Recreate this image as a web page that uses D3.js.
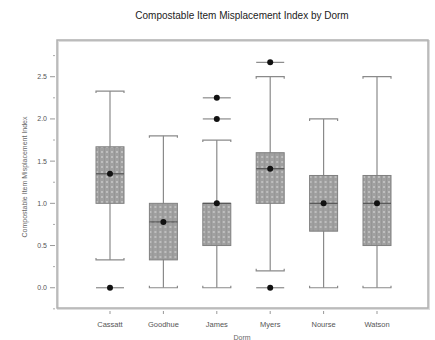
<!DOCTYPE html>
<html>
<head>
<meta charset="utf-8">
<script src="https://cdn.jsdelivr.net/npm/d3@7"></script>
<style>
  body { margin: 0; background: #fff; }
  text { font-family: "Liberation Sans", Arial, sans-serif; }
</style>
</head>
<body>
<svg id="chart" width="435" height="340"></svg>
<script>
var dorms = ['Cassatt', 'Goodhue', 'James', 'Myers', 'Nourse', 'Watson'];
var whiskerLow = [0.33, 0, 0, 0.2, 0, 0];
var q1 = [1.0, 0.33, 0.5, 1.0, 0.67, 0.5];
var medians = [1.35, 0.78, 1.0, 1.41, 1.0, 1.0];
var q3 = [1.67, 1.0, 1.0, 1.6, 1.33, 1.33];
var whiskerHigh = [2.33, 1.8, 1.75, 2.5, 2.0, 2.5];
var means = [1.35, 0.78, 1.0, 1.41, 1.0, 1.0];
var outliers = [[0], [], [2.0, 2.25], [0, 2.67], [], []];
var yTicks = [0, 0.5, 1.0, 1.5, 2.0, 2.5];
var yMinorTicks = [-0.25, 0.25, 0.75, 1.25, 1.75, 2.25, 2.75];

var svg = d3.select('#chart');
var frame = {left: 57, top: 40, right: 428, bottom: 308};

var x = d3.scaleBand().domain(dorms).range([83.3, 403.7]);
var y = d3.scaleLinear().domain([-0.24, 2.935]).range([frame.bottom, frame.top]);
var boxW = 28;

// stipple pattern for the boxes
var defs = svg.append('defs');
var pat = defs.append('pattern')
  .attr('id', 'stipple')
  .attr('patternUnits', 'userSpaceOnUse')
  .attr('width', 5).attr('height', 5);
pat.append('rect').attr('width', 5).attr('height', 5).attr('fill', '#a0a0a0');
pat.append('rect').attr('x', 1).attr('y', 1).attr('width', 2).attr('height', 2).attr('fill', '#bebebe');
pat.append('rect').attr('x', 4).attr('y', 0).attr('width', 1).attr('height', 5).attr('fill', '#959595');

// title
svg.append('text')
  .attr('x', 242).attr('y', 19)
  .attr('text-anchor', 'middle')
  .style('font-size', '10px')
  .attr('fill', '#222')
  .text('Compostable Item Misplacement Index by Dorm');

// frame with a light shadow
svg.append('rect')
  .attr('x', frame.left + 1).attr('y', frame.top + 1)
  .attr('width', frame.right - frame.left).attr('height', frame.bottom - frame.top)
  .attr('fill', 'none').attr('stroke', '#ddd').attr('stroke-width', 2);
svg.append('rect')
  .attr('x', frame.left).attr('y', frame.top)
  .attr('width', frame.right - frame.left).attr('height', frame.bottom - frame.top)
  .attr('fill', 'none').attr('stroke', '#b0b0b0').attr('stroke-width', 1.5);

// y axis ticks and labels
svg.selectAll('.ymajor')
  .data(yTicks)
  .enter().append('line')
  .attr('x1', 50).attr('x2', 55)
  .attr('y1', function(d){ return y(d); }).attr('y2', function(d){ return y(d); })
  .attr('stroke', '#999');
svg.selectAll('.yminor')
  .data(yMinorTicks)
  .enter().append('line')
  .attr('x1', 53).attr('x2', 55)
  .attr('y1', function(d){ return y(d); }).attr('y2', function(d){ return y(d); })
  .attr('stroke', '#aaa');
svg.selectAll('.ylab')
  .data(yTicks)
  .enter().append('text')
  .attr('x', 47)
  .attr('y', function(d){ return y(d) + 2.5; })
  .attr('text-anchor', 'end')
  .style('font-size', '7px')
  .attr('fill', '#555')
  .text(function(d){ return d.toFixed(1); });

svg.append('text')
  .attr('transform', 'translate(27,177) rotate(-90)')
  .attr('text-anchor', 'middle')
  .style('font-size', '7px')
  .attr('fill', '#666')
  .text('Compostable Item Misplacement Index');

// x axis ticks and labels
svg.selectAll('.xtick')
  .data(dorms)
  .enter().append('line')
  .attr('x1', function(d){ return x(d) + x.bandwidth() / 2; })
  .attr('x2', function(d){ return x(d) + x.bandwidth() / 2; })
  .attr('y1', 311).attr('y2', 314)
  .attr('stroke', '#999');
svg.selectAll('.xlab')
  .data(dorms)
  .enter().append('text')
  .attr('x', function(d){ return x(d) + x.bandwidth() / 2; })
  .attr('y', 327)
  .attr('text-anchor', 'middle')
  .style('font-size', '7.5px')
  .attr('fill', '#555')
  .text(function(d){ return d; });
svg.append('text')
  .attr('x', 242).attr('y', 340)
  .attr('text-anchor', 'middle')
  .style('font-size', '7px')
  .attr('fill', '#666')
  .text('Dorm');

// boxes
var g = svg.selectAll('.box')
  .data(dorms)
  .enter().append('g')
  .attr('transform', function(d){ return 'translate(' + (x(d) + x.bandwidth() / 2) + ',0)'; });

// whisker stems
g.append('line')
  .attr('x1', 0).attr('x2', 0)
  .attr('y1', function(d, i){ return y(whiskerHigh[i]); })
  .attr('y2', function(d, i){ return y(whiskerLow[i]); })
  .attr('stroke', '#8a8a8a').attr('stroke-width', 1.2);

// whisker caps, bracket style
function cap(sel, vals, dir) {
  sel.append('path')
    .attr('d', function(d, i){
      var yy = y(vals[i]);
      var h = boxW / 2;
      return 'M' + (-h) + ',' + (yy + dir * 2) + 'L' + (-h) + ',' + yy +
        'L' + h + ',' + yy + 'L' + h + ',' + (yy + dir * 2);
    })
    .attr('fill', 'none')
    .attr('stroke', '#8a8a8a').attr('stroke-width', 1.2);
}
cap(g, whiskerHigh, 1);
cap(g, whiskerLow, -1);

g.append('rect')
  .attr('x', -boxW / 2)
  .attr('y', function(d, i){ return y(q3[i]); })
  .attr('width', boxW)
  .attr('height', function(d, i){ return y(q1[i]) - y(q3[i]); })
  .attr('fill', 'url(#stipple)')
  .attr('stroke', '#808080').attr('stroke-width', 1);

// median line
g.append('line')
  .attr('x1', -boxW / 2).attr('x2', boxW / 2)
  .attr('y1', function(d, i){ return y(medians[i]); })
  .attr('y2', function(d, i){ return y(medians[i]); })
  .attr('stroke', '#555').attr('stroke-width', 1.2);

// mean marker
g.append('circle')
  .attr('cx', 0)
  .attr('cy', function(d, i){ return y(means[i]); })
  .attr('r', 3)
  .attr('fill', '#111');

// outliers: dot with short line
g.each(function(d, i){
  var og = d3.select(this).selectAll('.out')
    .data(outliers[i])
    .enter().append('g');
  og.append('line')
    .attr('x1', -boxW / 2).attr('x2', boxW / 2)
    .attr('y1', function(v){ return y(v); })
    .attr('y2', function(v){ return y(v); })
    .attr('stroke', '#8a8a8a').attr('stroke-width', 1.2);
  og.append('circle')
    .attr('cx', 0)
    .attr('cy', function(v){ return y(v); })
    .attr('r', 3)
    .attr('fill', '#111');
});
</script>
</body>
</html>
